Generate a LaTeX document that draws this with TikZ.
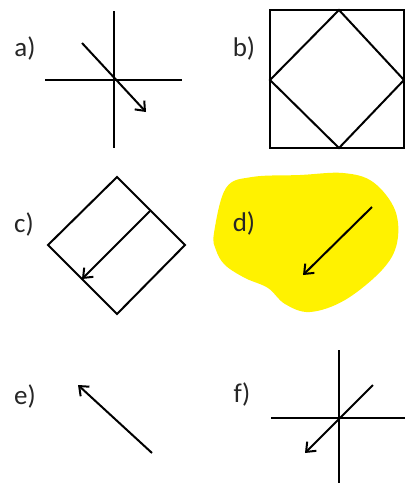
\documentclass[tikz,border=0pt]{standalone}
\usepackage{fontspec}
\setmainfont{Carlito}
\usetikzlibrary{arrows.meta}
\begin{document}
\begin{tikzpicture}[x=1pt,y=-1pt,
  ln/.style={line width=2pt,black},
  arr/.style={line width=2pt,black,-{Straight Barb[length=8pt,width=13pt,line width=2pt]}},
  lab/.style={font=\fontsize{27}{30}\selectfont,inner sep=0pt,anchor=base,text=black!85}]
\useasboundingbox (0,0) rectangle (405,483);
% labels
\node[lab] (la) at (25,56) {a)};
\node[lab] (lb) at (244,56) {b)};
\node[lab] (lc) at (24,232) {c)};
% d blob
\fill[yellow] plot[smooth cycle,tension=0.6] coordinates{(214,233) (226,188) (252,177) (300,175) (343,173) (373,182) (395,210) (397,243) (382,270) (345,300) (310,312) (285,304) (268,288) (245,278) (225,265) (216,250)};
\node[lab] (ld) at (244,231) {d)};
\node[lab] (le) at (25,404) {e)};
\node[lab] (lf) at (242,402) {f)};
% a
\coordinate (aT) at (114,11); \coordinate (aB) at (114,148);
\coordinate (aL) at (45,80); \coordinate (aR) at (182,80);
\coordinate (aS) at (82,43); \coordinate (aE) at (146,112);
\draw[ln] (aT) -- (aB);
\draw[ln] (aL) -- (aR);
\draw[arr] (aS) -- (aE);
% b
\coordinate (bTL) at (270,10); \coordinate (bBR) at (404,148);
\draw[ln] (bTL) rectangle (bBR);
\coordinate (bt) at (339,10); \coordinate (bl) at (270,80);
\coordinate (bb) at (339,148); \coordinate (br) at (404,80);
\draw[ln] (bt) -- (br) -- (bb) -- (bl) -- cycle;
% c
\coordinate (ct) at (117,177); \coordinate (cl) at (48,245);
\coordinate (cb) at (117,314); \coordinate (cr) at (185,245);
\draw[ln] (ct) -- (cr) -- (cb) -- (cl) -- cycle;
\coordinate (cs) at (150,211); \coordinate (ce) at (82,279);
\draw[arr] (cs) -- (ce);
% d
\coordinate (ds) at (372,207); \coordinate (de) at (303,275);
\draw[arr] (ds) -- (de);
% e
\coordinate (es) at (152,453); \coordinate (ee) at (78,385);
\draw[arr] (es) -- (ee);
% f
\coordinate (fT) at (339,350); \coordinate (fB) at (339,483);
\coordinate (fL) at (271,418); \coordinate (fR) at (405,418);
\coordinate (fs) at (373,385); \coordinate (fe) at (305,453);
\draw[ln] (fT) -- (fB);
\draw[ln] (fL) -- (fR);
\draw[arr] (fs) -- (fe);
\end{tikzpicture}
\end{document}
